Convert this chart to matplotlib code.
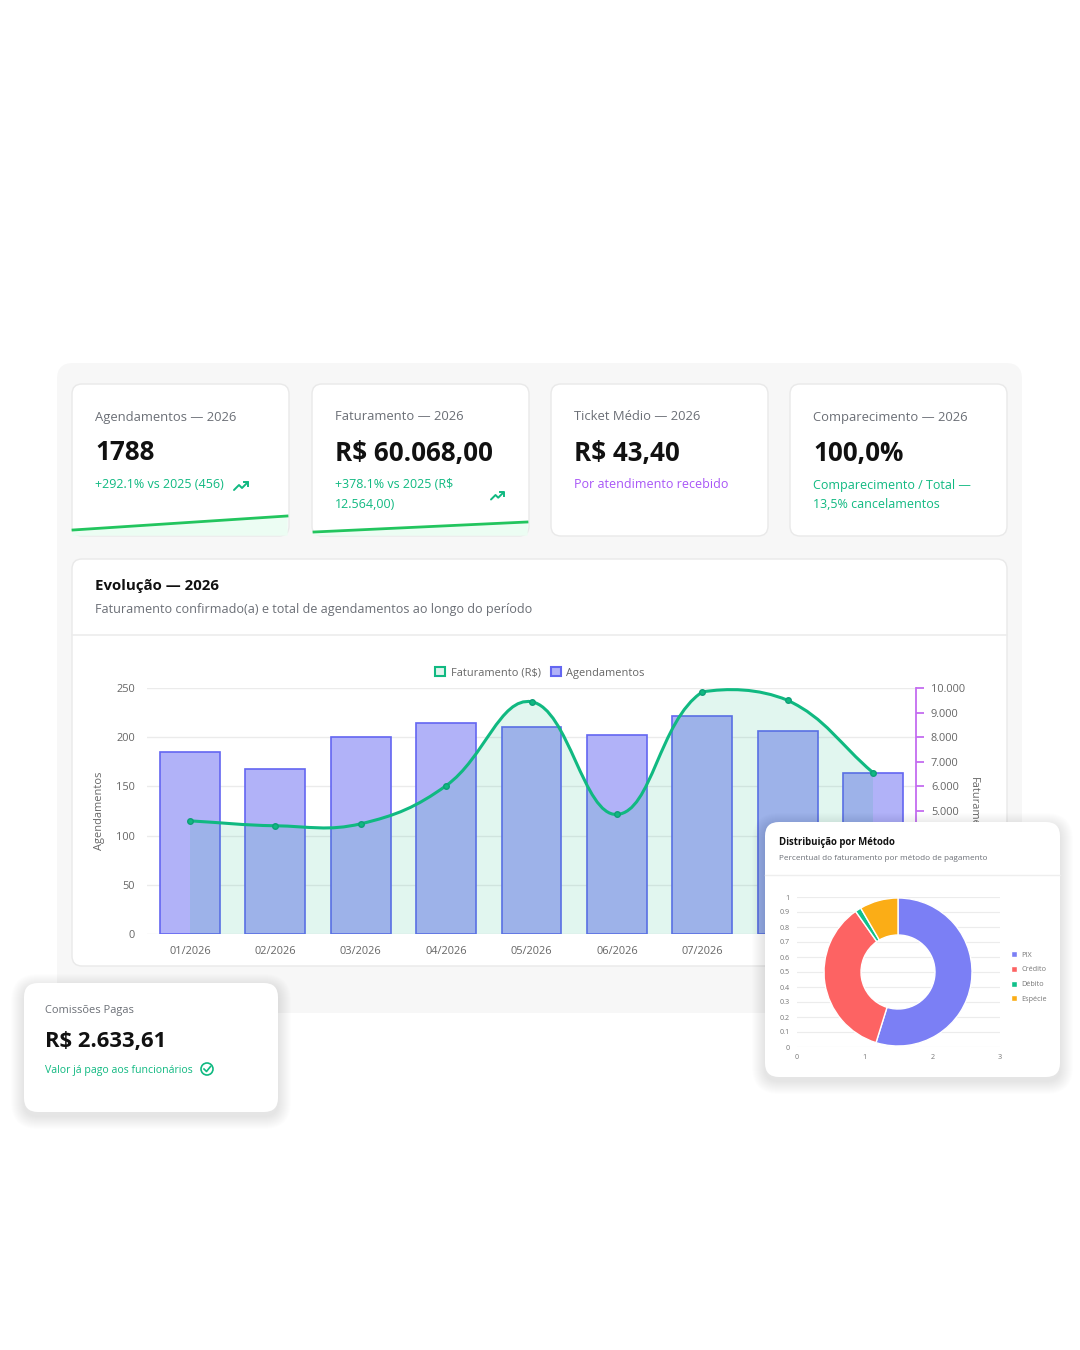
import numpy as np
import matplotlib
matplotlib.use('Agg')
import matplotlib.pyplot as plt
from matplotlib.patches import FancyBboxPatch, PathPatch, Patch, Circle
from matplotlib.path import Path
from matplotlib.ticker import FuncFormatter, MultipleLocator

plt.rcParams['font.family'] = ['Open Sans', 'DejaVu Sans']

# ---- data ----
months = ['01/2026', '02/2026', '03/2026', '04/2026', '05/2026',
          '06/2026', '07/2026', '08/2026', '09/2026']
agendamentos = [185, 168, 200, 214, 210, 202, 222, 206, 164]
faturamento = [4600, 4400, 4480, 6030, 9440, 4860, 9840, 9500, 6560]

metodos = ['PIX', 'Crédito', 'Débito', 'Espécie']
metodo_pct = [54.8, 35.5, 1.3, 8.4]
metodo_cores = ['#7b7ff5', '#fd6363', '#10c08a', '#fbad16']

kpi_titles = ['Agendamentos — 2026', 'Faturamento — 2026',
              'Ticket Médio — 2026', 'Comparecimento — 2026']
kpi_values = ['1788', 'R$ 60.068,00', 'R$ 43,40', '100,0%']
kpi_notes = [['+292.1% vs 2025 (456)'],
             ['+378.1% vs 2025 (R$', '12.564,00)'],
             ['Por atendimento recebido'],
             ['Comparecimento / Total —', '13,5% cancelamentos']]

W, H = 1080, 1350
GREEN = '#10b981'
GRAY = '#6b6f76'
INK = '#111111'

fig = plt.figure(figsize=(W / 100, H / 100), dpi=100)
fig.patch.set_facecolor('white')


def fpx(x0, y0, x1, y1):
    # pixel box (top-left origin) -> figure fraction rect
    return [x0 / W, 1 - y1 / H, (x1 - x0) / W, (y1 - y0) / H]


def pxax(z):
    a = fig.add_axes([0, 0, 1, 1], zorder=z)
    a.set_xlim(0, W)
    a.set_ylim(H, 0)
    a.axis('off')
    a.patch.set_alpha(0)
    return a


def box(a, x0, y0, x1, y1, r, fc='white', ec='none', lw=1, z=1, alpha=1):
    p = FancyBboxPatch((x0, y0), x1 - x0, y1 - y0,
                       boxstyle='round,pad=0,rounding_size=%d' % r,
                       fc=fc, ec=ec, lw=lw, zorder=z, alpha=alpha)
    a.add_patch(p)


def txt(a, x, y, s, px, color, weight='normal', ha='left', z=5):
    a.text(x, y, s, fontsize=px * 0.72, color=color, fontweight=weight,
           ha=ha, va='center', zorder=z)


def shadow(a, x0, y0, x1, y1, r):
    for k in range(1, 14):
        box(a, x0 - k, y0 - k + 4, x1 + k, y1 + k + 4, r + k,
            fc='#000000', z=0.5, alpha=0.007)


def trend(a, x, y, s=1.0):
    xs = [x, x + 5 * s, x + 8 * s, x + 14 * s]
    ys = [y + 5 * s, y, y + 3 * s, y - 3 * s]
    a.plot(xs, ys, color=GREEN, lw=1.4, solid_capstyle='round', zorder=6)
    a.plot([x + 10 * s, x + 14 * s, x + 14 * s],
           [y - 3 * s, y - 3 * s, y + 1 * s], color=GREEN, lw=1.4, zorder=6)


# ---- background layer ----
bg = pxax(0)
box(bg, 57, 363, 1022, 1013, 16, fc='#f7f7f7', z=0.2)

card_x = [72, 312, 551, 790]
for i, cx in enumerate(card_x):
    box(bg, cx, 384, cx + 217, 536, 10, fc='white', ec='#e9e9e9', z=1)
    txt(bg, cx + 23, 417, kpi_titles[i], 13, GRAY)
    txt(bg, cx + 23, 453, kpi_values[i], 26, INK, weight='bold')
    col = '#a855f7' if i == 2 else GREEN
    for j, line in enumerate(kpi_notes[i]):
        txt(bg, cx + 23, 485 + 19 * j, line, 12.5, col)

# sparklines
bg.fill([73, 287, 287, 73], [530, 516, 535, 535], color='#ecfdf3', zorder=2)
bg.plot([73, 287], [530, 516], color='#22c55e', lw=2, zorder=3)
bg.fill([314, 527, 527, 314], [532, 522, 535, 535], color='#ecfdf3', zorder=2)
bg.plot([314, 527], [532, 522], color='#22c55e', lw=2, zorder=3)
trend(bg, 234, 485)
trend(bg, 491, 495, 0.9)

# evolution card
box(bg, 72, 559, 1007, 966, 10, fc='white', ec='#e9e9e9', z=1)
bg.plot([72, 1007], [635, 635], color='#ececec', lw=1.2, zorder=2)
txt(bg, 95, 586, 'Evolução — 2026', 15, INK, weight='bold')
txt(bg, 95, 610, 'Faturamento confirmado(a) e total de agendamentos ao longo do período',
    12.6, GRAY)

# ---- main chart ----
ax = fig.add_axes(fpx(147.3, 688, 915.7, 934), zorder=2)
ax.patch.set_alpha(0)
x = np.arange(len(months))
bars = ax.bar(x, agendamentos, width=0.70, color='#b1b2f8', edgecolor='#6366f1',
              linewidth=1.2, zorder=2)
ax.set_xlim(-0.5, len(months) - 0.5)
ax.set_ylim(0, 250)
ax.yaxis.set_major_locator(MultipleLocator(50))
ax.grid(axis='y', color='#ebebeb', lw=1, zorder=0)
ax.set_axisbelow(True)
for s in ax.spines.values():
    s.set_visible(False)
ax.set_xticks(x)
ax.set_xticklabels(months)
ax.tick_params(axis='both', length=0, labelsize=11 * 0.72, labelcolor='#666666')
ax.tick_params(axis='x', pad=9)
ax.tick_params(axis='y', pad=9)
ax.set_ylabel('Agendamentos', fontsize=11 * 0.72, color='#666666')
ax.yaxis.set_label_coords(-0.055, 0.5)

ax2 = ax.twinx()
ax2.set_zorder(3)
ax2.patch.set_alpha(0)
ax2.set_ylim(0, 10000)
ax2.yaxis.set_major_locator(MultipleLocator(1000))
ax2.yaxis.set_major_formatter(FuncFormatter(lambda v, p: f'{int(v):,}'.replace(',', '.')))
for k in ['top', 'left', 'bottom']:
    ax2.spines[k].set_visible(False)
ax2.spines['right'].set_color('#c46cf0')
ax2.spines['right'].set_linewidth(1.3)
ax2.tick_params(axis='y', color='#c46cf0', length=6, width=1.3, pad=5,
                labelsize=11 * 0.72, labelcolor='#666666')
ax2.set_ylabel('Faturamento', fontsize=11 * 0.72, color='#666666', rotation=270,
               va='center')
ax2.yaxis.set_label_coords(1.075, 0.5)

# chart.js style bezier (tension 0.4) computed in pixel space,
# control points capped to the chart area like chart.js does
sx = 768.4 / len(months)
sy = 246 / 10000
fx = x.astype(float)
fy = np.array(faturamento, dtype=float)
n = len(fx)
cp_prev, cp_next = [], []
for i in range(n):
    a_i = max(i - 1, 0)
    b_i = min(i + 1, n - 1)
    d01 = np.hypot((fx[i] - fx[a_i]) * sx, (fy[i] - fy[a_i]) * sy)
    d12 = np.hypot((fx[b_i] - fx[i]) * sx, (fy[b_i] - fy[i]) * sy)
    tot = d01 + d12 if d01 + d12 else 1
    fa = 0.4 * d01 / tot
    fb = 0.4 * d12 / tot
    dx = fx[b_i] - fx[a_i]
    dy = fy[b_i] - fy[a_i]
    cp_prev.append((fx[i] - fa * dx, min(max(fy[i] - fa * dy, 0), 10000)))
    cp_next.append((fx[i] + fb * dx, min(max(fy[i] + fb * dy, 0), 10000)))
verts = [(fx[0], fy[0])]
codes = [Path.MOVETO]
for i in range(n - 1):
    verts += [cp_next[i], cp_prev[i + 1], (fx[i + 1], fy[i + 1])]
    codes += [Path.CURVE4] * 3
line_path = Path(verts, codes)
fill_path = Path(verts + [(fx[-1], 0), (fx[0], 0), (fx[0], fy[0])],
                 codes + [Path.LINETO, Path.LINETO, Path.CLOSEPOLY])
ax2.add_patch(PathPatch(fill_path, fc=GREEN, alpha=0.12, ec='none', zorder=2,
                        clip_on=False))
ax2.add_patch(PathPatch(line_path, fc='none', ec=GREEN, lw=2.2, zorder=3,
                        clip_on=False))
ax2.plot(fx, fy, 'o', ms=4, color=GREEN, mec='#0e9f78', zorder=4, clip_on=False)

handles = [Patch(fc='#e2f4ee', ec=GREEN, lw=1.5, label='Faturamento (R$)'),
           Patch(fc='#b1b2f8', ec='#6366f1', lw=1.5, label='Agendamentos')]
ax2.legend(handles=handles, loc='center', bbox_to_anchor=(0.511, 1.061), ncol=2,
           frameon=False, fontsize=11 * 0.72, handlelength=0.9, handleheight=0.9,
           handletextpad=0.5, columnspacing=0.9, labelcolor='#666666')

# ---- overlay cards ----
ov = pxax(8)
shadow(ov, 24, 983, 278, 1112, 14)
box(ov, 24, 983, 278, 1112, 14, fc='white', z=1)
txt(ov, 45, 1011, 'Comissões Pagas', 11, GRAY)
txt(ov, 45, 1042, 'R$ 2.633,61', 22, INK, weight='bold')
txt(ov, 45, 1070, 'Valor já pago aos funcionários', 10.5, GREEN)
ov.add_patch(Circle((207, 1069), 6, fc='none', ec=GREEN, lw=1.2, zorder=6))
ov.plot([204, 206.5, 210.5], [1069, 1071.5, 1066.5], color=GREEN, lw=1.2, zorder=6)

shadow(ov, 765, 822, 1060, 1077, 14)
box(ov, 765, 822, 1060, 1077, 14, fc='white', z=1)
txt(ov, 779, 843, 'Distribuição por Método', 9.6, INK, weight='bold')
txt(ov, 779, 859, 'Percentual do faturamento por método de pagamento', 8.2, GRAY)
ov.plot([765, 1060], [875, 875], color='#eeeeee', lw=1, zorder=2)

# donut chart grid (chart.js leaves cartesian axes on)
gx = fig.add_axes(fpx(797, 897, 1000, 1047), zorder=9)
gx.patch.set_alpha(0)
gx.set_xlim(0, 3)
gx.set_ylim(0, 1)
gx.set_xticks([0, 1, 2, 3])
gx.set_yticks(np.arange(0, 1.01, 0.1))
gx.set_yticklabels(['0', '0.1', '0.2', '0.3', '0.4', '0.5', '0.6', '0.7', '0.8', '0.9', '1'])
gx.grid(axis='y', color='#ececec', lw=0.8)
for s in gx.spines.values():
    s.set_visible(False)
gx.tick_params(length=0, labelsize=5.2, labelcolor='#777777', pad=5)

px_ = fig.add_axes(fpx(824, 898, 972, 1046), zorder=10)
px_.pie(metodo_pct, colors=metodo_cores, startangle=90, counterclock=False,
        radius=1, wedgeprops=dict(width=0.5, edgecolor='white', linewidth=1))
px_.set_xlim(-1, 1)
px_.set_ylim(-1, 1)
px_.set_aspect('equal')
px_.axis('off')
px_.legend(metodos, loc='center left', bbox_to_anchor=(1004 / W, 1 - 977 / H),
           bbox_transform=fig.transFigure, frameon=False, fontsize=5.2,
           handlelength=0.9, handleheight=0.9, handletextpad=0.6,
           labelspacing=1.0, labelcolor='#777777')

fig.savefig('out.png', dpi=100, facecolor='white')
